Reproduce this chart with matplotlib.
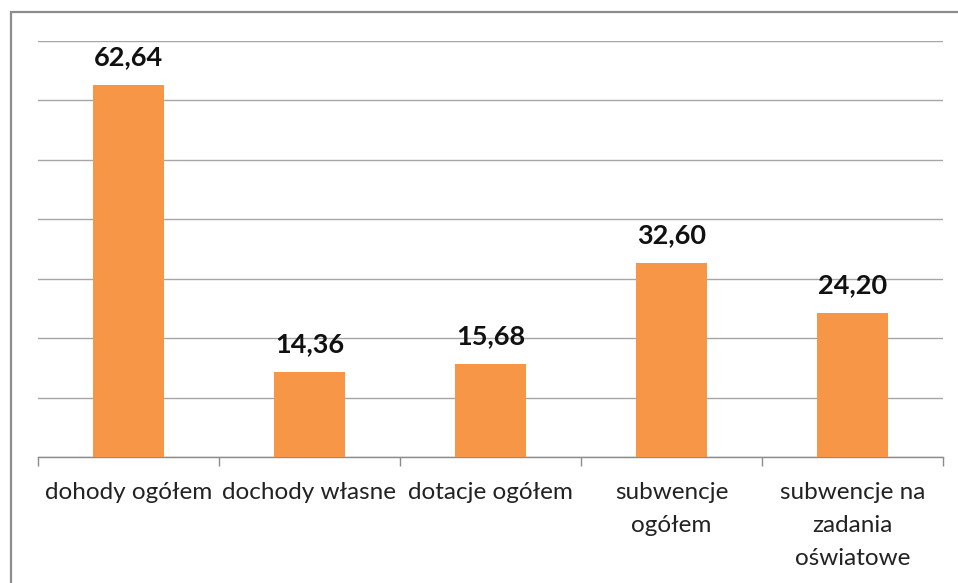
import matplotlib.pyplot as plt
from matplotlib.patches import Rectangle

kategorie = ['dohody ogółem', 'dochody własne', 'dotacje ogółem',
             'subwencje\nogółem', 'subwencje na\nzadania\noświatowe']
wartosci = [62.64, 14.36, 15.68, 32.60, 24.20]

plt.rcParams['font.family'] = ['Lato', 'DejaVu Sans']

fig = plt.figure(figsize=(9.58, 5.83), dpi=100)
W, H = 958, 583
ax = fig.add_axes([38 / W, 1 - 457 / H, (943 - 38) / W, (457 - 41) / H])

x = list(range(len(wartosci)))
ax.bar(x, wartosci, width=0.39, color='#F79646', zorder=3)

for xi, v in zip(x, wartosci):
    ax.annotate('{:.2f}'.format(v).replace('.', ','), (xi, v),
                xytext=(0, 20), textcoords='offset points',
                ha='center', va='center', fontsize=19.5, fontweight='bold',
                color='#111111')

ax.set_xlim(-0.5, len(wartosci) - 0.5)
ax.set_ylim(0, 70)
ax.set_yticks(range(0, 71, 10))
ax.yaxis.grid(True, color='#A6A6A6', linewidth=1.0, zorder=0)
ax.tick_params(axis='y', left=False, labelleft=False)

# kreski podziału kategorii pod osią
ax.set_xticks([i - 0.5 for i in range(len(wartosci) + 1)])
ax.set_xticklabels([])
ax.tick_params(axis='x', direction='out', length=6.5, width=1.0, color='#8C8C8C')
ax.set_xticks(x, minor=True)
ax.set_xticklabels(kategorie, minor=True, fontsize=17.5, color='#222222',
                   linespacing=1.72, va='top')
ax.tick_params(axis='x', which='minor', length=0, pad=18)

for s in ['top', 'right', 'left']:
    ax.spines[s].set_visible(False)
ax.spines['bottom'].set_color('#8C8C8C')
ax.spines['bottom'].set_linewidth(1.0)

# ramka wykresu
fig.patches.append(Rectangle((10.5 / W, -0.1), 1.2, 1 - 12.5 / H + 0.1,
                             transform=fig.transFigure, fill=False,
                             edgecolor='#8C8C8C', linewidth=1.6))

fig.savefig('out.png', dpi=100)
